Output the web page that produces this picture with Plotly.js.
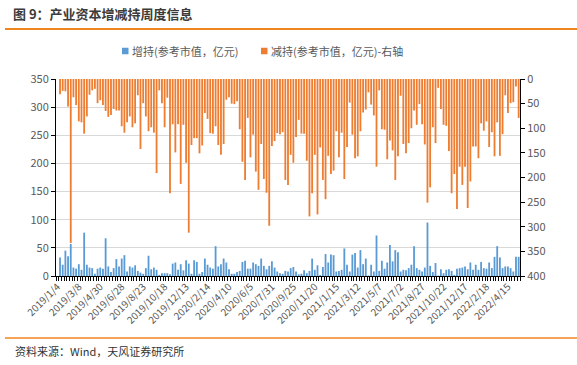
<!DOCTYPE html>
<html>
<head>
<meta charset="utf-8">
<script src="https://cdn.plot.ly/plotly-3.0.1.min.js"></script>
<style>html,body{margin:0;padding:0;background:#fff;}#chart{width:577px;height:365px;}</style>
</head>
<body>
<div id="chart"></div>
<script>
const categories = [
"2019/1/4","2019/1/11","2019/1/18","2019/1/25","2019/2/1","2019/2/15","2019/2/22","2019/3/1","2019/3/8",
"2019/3/15","2019/3/22","2019/3/29","2019/4/4","2019/4/12","2019/4/19","2019/4/26","2019/4/30",
"2019/5/10","2019/5/17","2019/5/24","2019/5/31","2019/6/6","2019/6/14","2019/6/21","2019/6/28",
"2019/7/5","2019/7/12","2019/7/19","2019/7/26","2019/8/2","2019/8/9","2019/8/16","2019/8/23",
"2019/8/30","2019/9/6","2019/9/12","2019/9/20","2019/9/27","2019/9/30","2019/10/11","2019/10/18",
"2019/10/25","2019/11/1","2019/11/8","2019/11/15","2019/11/22","2019/11/29","2019/12/6","2019/12/13",
"2019/12/20","2019/12/27","2020/1/3","2020/1/10","2020/1/17","2020/1/23","2020/2/7","2020/2/14",
"2020/2/21","2020/2/28","2020/3/6","2020/3/13","2020/3/20","2020/3/27","2020/4/3","2020/4/10",
"2020/4/17","2020/4/24","2020/4/30","2020/5/8","2020/5/15","2020/5/22","2020/5/29","2020/6/5",
"2020/6/12","2020/6/19","2020/6/24","2020/7/3","2020/7/10","2020/7/17","2020/7/24","2020/7/31",
"2020/8/7","2020/8/14","2020/8/21","2020/8/28","2020/9/4","2020/9/11","2020/9/18","2020/9/25",
"2020/9/30","2020/10/9","2020/10/16","2020/10/23","2020/10/30","2020/11/6","2020/11/13","2020/11/20",
"2020/11/27","2020/12/4","2020/12/11","2020/12/18","2020/12/25","2020/12/31","2021/1/8","2021/1/15",
"2021/1/22","2021/1/29","2021/2/5","2021/2/10","2021/2/19","2021/2/26","2021/3/5","2021/3/12",
"2021/3/19","2021/3/26","2021/4/2","2021/4/9","2021/4/16","2021/4/23","2021/4/30","2021/5/7",
"2021/5/14","2021/5/21","2021/5/28","2021/6/4","2021/6/11","2021/6/18","2021/6/25","2021/7/2",
"2021/7/9","2021/7/16","2021/7/23","2021/7/30","2021/8/6","2021/8/13","2021/8/20","2021/8/27",
"2021/9/3","2021/9/10","2021/9/17","2021/9/24","2021/9/30","2021/10/8","2021/10/15","2021/10/22",
"2021/10/29","2021/11/5","2021/11/12","2021/11/19","2021/11/26","2021/12/3","2021/12/10","2021/12/17",
"2021/12/24","2021/12/31","2022/1/7","2022/1/14","2022/1/21","2022/1/28","2022/2/11","2022/2/18",
"2022/2/25","2022/3/4","2022/3/11","2022/3/18","2022/3/25","2022/4/1","2022/4/8","2022/4/15",
"2022/4/22","2022/4/29","2022/5/6","2022/5/13"
];

// 增持(参考市值，亿元) - left axis
const increase = [
0,33,20,45,35,57,15,13,21,11,77,20,15,14,4,13,15,13,67,17,7,14,30,17,
31,37,8,17,15,19,9,6,4,14,36,12,15,11,2,5,5,5,3,22,24,11,21,10,28,22,4,28,25,4,7,31,20,15,
13,53,17,21,31,24,12,4,4,7,9,25,27,13,13,24,21,18,31,18,12,18,26,15,8,5,4,9,8,14,16,8,3,
4,10,5,9,31,11,19,2,16,39,24,38,37,8,9,11,49,20,8,38,41,15,46,21,31,1,20,8,72,9,27,13,24,55,
26,46,42,8,11,10,14,20,53,14,11,8,15,95,18,7,23,1,12,5,11,12,9,2,13,14,15,17,12,24,11,20,11,
25,14,13,24,14,34,53,33,14,17,17,14,8,34,34
];

// 减持(参考市值，亿元) - right axis (reversed)
const decrease = [
0,31,24,25,56,333,37,53,86,88,111,76,32,23,20,49,43,53,65,77,73,61,64,64,
96,109,88,76,98,90,33,142,49,76,106,98,109,191,23,49,98,38,232,92,149,92,213,93,170,312,134,120,120,151,135,69,81,110,
111,96,134,154,132,42,37,50,51,45,102,168,205,79,159,113,188,225,132,203,231,298,136,126,110,112,108,205,215,154,170,118,83,
111,111,166,279,232,154,275,139,205,244,156,193,186,106,159,109,203,138,48,113,161,157,106,68,62,27,52,74,178,23,102,103,163,125,
145,205,157,34,132,151,130,100,64,93,51,92,133,251,220,98,130,18,61,93,95,146,232,193,264,178,215,178,262,208,137,137,161,
90,105,86,138,108,157,88,156,112,33,69,49,47,15,79
];

const seriesNames = ['增持(参考市值，亿元)', '减持(参考市值，亿元)-右轴'];
const seriesColors = ['#5B9BD5', '#ED7D31'];

const labelStep = 8;
const tickText = categories.map((c, i) => (i % labelStep === 0 ? c : ""));

const CJK = '"Noto Sans CJK SC", "Liberation Sans", sans-serif';
const grey = '#595959';

const traces = [
  {
    type: 'bar', name: seriesNames[0], x: categories, y: increase,
    marker: {color: seriesColors[0]}, yaxis: 'y', hoverinfo: 'x+y', showlegend: false
  },
  {
    type: 'bar', name: seriesNames[1], x: categories, y: decrease,
    marker: {color: seriesColors[1]}, yaxis: 'y2', hoverinfo: 'x+y', showlegend: false
  }
];

const W = 577, H = 365, L = 56, R = 520, T = 79, B = 276;
const px = v => (v - L) / (R - L);
const py = v => (B - v) / (B - T);

// legend placement (pixels)
const legendY = 51, legendSq = 6.5;
const legendX = [122, 261];

const legendShapes = legendX.map((x, k) => ({
  type: 'rect', xref: 'paper', yref: 'paper',
  x0: px(x), x1: px(x + legendSq), y0: py(legendY + legendSq / 2), y1: py(legendY - legendSq / 2),
  fillcolor: seriesColors[k], line: {width: 0}
}));
const legendTexts = legendX.map((x, k) => ({
  text: seriesNames[k], xref: 'paper', yref: 'paper',
  x: px(x + legendSq + 2), xanchor: 'left', y: py(legendY), yanchor: 'middle',
  showarrow: false, borderpad: 0, font: {family: CJK, size: 11, color: grey}
}));

const layout = {
  width: W, height: H,
  margin: {l: L, r: W - R, t: T, b: H - B, pad: 0},
  paper_bgcolor: '#ffffff', plot_bgcolor: '#ffffff',
  barmode: 'overlay', bargap: 0.32,
  font: {family: CJK, size: 11, color: grey},
  title: {
    text: '<b>图 9：产业资本增减持周度信息</b>',
    font: {family: CJK, size: 13, color: '#3b3b3b'},
    x: 13 / W, xanchor: 'left', xref: 'container',
    y: 1 - 14 / H, yanchor: 'middle', yref: 'container'
  },
  showlegend: false,
  xaxis: {
    type: 'category', range: [-0.5, categories.length - 0.5],
    tickmode: 'array', tickvals: categories, ticktext: tickText,
    tickson: 'boundaries', ticks: 'outside', ticklen: 4, tickcolor: '#000', tickwidth: 1,
    tickangle: -45, tickfont: {family: CJK, size: 10, color: grey},
    showline: true, linecolor: '#000', linewidth: 1, showgrid: false, zeroline: false
  },
  yaxis: {
    range: [0, 350], dtick: 50, tick0: 0,
    ticks: 'outside', ticklen: 4, tickcolor: '#000',
    showline: true, linecolor: '#000', linewidth: 1,
    showgrid: true, gridcolor: '#D9D9D9', gridwidth: 1, zeroline: false,
    tickfont: {family: CJK, size: 11, color: grey}
  },
  yaxis2: {
    overlaying: 'y', side: 'right', range: [400, 0], dtick: 50, tick0: 0,
    ticks: 'outside', ticklen: 4, tickcolor: '#000',
    showline: true, linecolor: '#000', linewidth: 1,
    showgrid: false, zeroline: false,
    tickfont: {family: CJK, size: 11, color: grey}
  },
  shapes: [
    {type: 'line', xref: 'paper', yref: 'paper', x0: px(5), x1: px(577), y0: py(29), y1: py(29),
     line: {color: '#F0841F', width: 2}},
    {type: 'line', xref: 'paper', yref: 'paper', x0: px(5), x1: px(577), y0: py(338), y1: py(338),
     line: {color: '#F0841F', width: 1.5}}
  ].concat(legendShapes),
  annotations: [
    {text: '资料来源：Wind，天风证券研究所', xref: 'paper', yref: 'paper',
     x: px(13), xanchor: 'left', y: py(351), yanchor: 'middle', showarrow: false,
     font: {family: CJK, size: 11, color: '#333333'}}
  ].concat(legendTexts)
};

Plotly.newPlot('chart', traces, layout, {displayModeBar: false, staticPlot: true});
</script>
</body>
</html>
